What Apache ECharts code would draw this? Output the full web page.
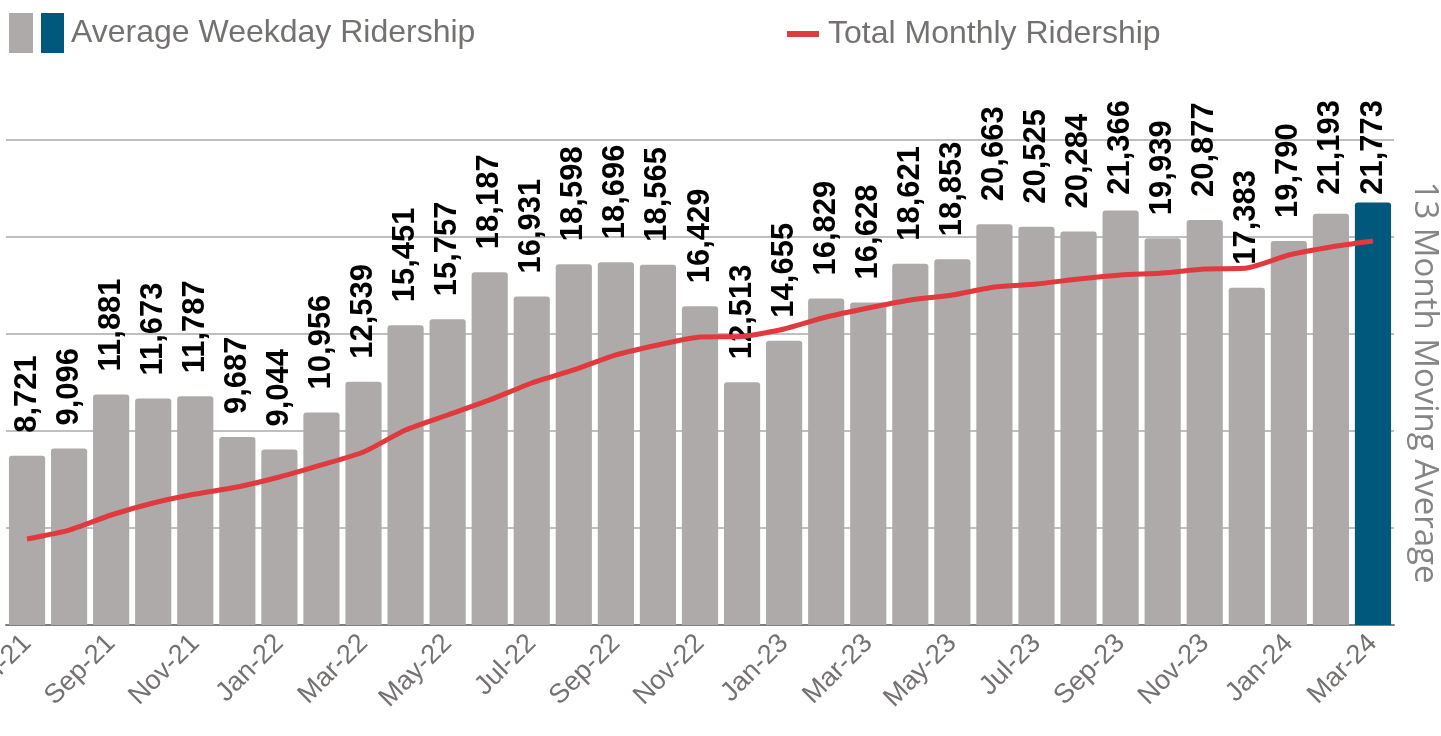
<!DOCTYPE html>
<html>
<head>
<meta charset="utf-8">
<script src="https://cdn.jsdelivr.net/npm/echarts@6/dist/echarts.min.js"></script>
<style>
  html, body { margin: 0; padding: 0; background: #fff; }
  #chart-container { width: 1441px; height: 736px; }
</style>
</head>
<body>
<div id="chart-container"></div>
<script>
// months shown on the x axis
const months = [
  'Jul-21', 'Aug-21', 'Sep-21', 'Oct-21', 'Nov-21', 'Dec-21',
  'Jan-22', 'Feb-22', 'Mar-22', 'Apr-22', 'May-22', 'Jun-22',
  'Jul-22', 'Aug-22', 'Sep-22', 'Oct-22', 'Nov-22', 'Dec-22',
  'Jan-23', 'Feb-23', 'Mar-23', 'Apr-23', 'May-23', 'Jun-23',
  'Jul-23', 'Aug-23', 'Sep-23', 'Oct-23', 'Nov-23', 'Dec-23',
  'Jan-24', 'Feb-24', 'Mar-24'
];

// average weekday ridership (bars)
const weekdayAvg = [
  8721, 9096, 11881, 11673, 11787, 9687,
  9044, 10956, 12539, 15451, 15757, 18187,
  16931, 18598, 18696, 18565, 16429, 12513,
  14655, 16829, 16628, 18621, 18853, 20663,
  20525, 20284, 21366, 19939, 20877, 17383,
  19790, 21193, 21773
];

// 13 month moving average of total monthly ridership (line)
const movingAvg = [
  88700, 97900, 113400, 125800, 135000, 142300,
  152600, 165000, 178400, 201000, 216500, 232000,
  249500, 262900, 278400, 288700, 296900, 297500,
  305200, 317500, 326800, 335000, 340200, 348500,
  351500, 356700, 360800, 362900, 367000, 368000,
  381400, 389700, 395900
];

const gray = '#AEAAAA';
const blue = '#00587C';
const red = '#E0393E';
const labelGap = 23;
const labelTopLimit = 100;

var dom = document.getElementById('chart-container');
var myChart = echarts.init(dom, null, { renderer: 'canvas' });

const barData = weekdayAvg.map(function (v, i) {
  if (i === weekdayAvg.length - 1) {
    return { value: v, itemStyle: { color: blue } };
  }
  return v;
});

var option = {
  animation: false,
  legend: [
    {
      left: 9,
      top: 13,
      padding: 0,
      itemWidth: 24,
      itemHeight: 40,
      icon: 'rect',
      selectedMode: false,
      data: ['Average Weekday Ridership'],
      formatter: function (name) {
        return '{gap|}{box|}{gap2|}' + name;
      },
      textStyle: {
        color: '#767171',
        fontSize: 32,
        fontFamily: 'Arial, "Liberation Sans"',
        rich: {
          gap: { width: 3 },
          box: { width: 23, height: 40, backgroundColor: blue },
          gap2: { width: 7 }
        }
      }
    },
    {
      left: 787,
      top: 18,
      padding: 0,
      itemWidth: 32,
      itemHeight: 6,
      icon: 'rect',
      selectedMode: false,
      data: ['Total Monthly Ridership'],
      textStyle: {
        color: '#767171',
        fontSize: 32,
        fontFamily: 'Arial, "Liberation Sans"',
        padding: [0, 0, 0, 4]
      }
    }
  ],
  grid: {
    left: 6,
    right: 47,
    top: 140,
    bottom: 111,
    containLabel: false,
    outerBoundsMode: 'none'
  },
  xAxis: {
    type: 'category',
    data: months,
    axisTick: { show: false },
    axisLine: { lineStyle: { color: '#7F7F7F', width: 2 } },
    axisLabel: {
      interval: 1,
      rotate: 45,
      margin: 14,
      color: '#767171',
      fontSize: 27,
      fontFamily: 'Arial, "Liberation Sans"'
    }
  },
  yAxis: [
    {
      type: 'value',
      min: 0,
      max: 25000,
      interval: 5000,
      axisLabel: { show: false },
      axisLine: { show: false },
      axisTick: { show: false },
      splitLine: { lineStyle: { color: '#BFBFBF', width: 2 } }
    },
    {
      type: 'value',
      min: 0,
      max: 500000,
      interval: 100000,
      position: 'right',
      name: '13 Month Moving Average',
      nameLocation: 'middle',
      nameRotate: -90,
      nameGap: 14,
      nameTextStyle: {
        color: '#858585',
        fontSize: 33,
        fontFamily: '"Open Sans", sans-serif'
      },
      axisLabel: { show: false },
      axisLine: { show: false },
      axisTick: { show: false },
      splitLine: { show: false }
    }
  ],
  series: [
    {
      name: 'Average Weekday Ridership',
      type: 'bar',
      barCategoryGap: '14%',
      itemStyle: { color: gray, borderRadius: [3, 3, 0, 0] },
      label: {
        show: true,
        position: 'top',
        distance: labelGap,
        rotate: 90,
        align: 'left',
        verticalAlign: 'middle',
        color: '#000',
        fontWeight: 'bold',
        fontSize: 31,
        fontFamily: 'Arial, "Liberation Sans"',
        formatter: function (p) {
          return p.value.toLocaleString('en-US');
        }
      },
      // keep labels inside the chart area at the top, like the original
      labelLayout: function (params) {
        var len = Math.max(params.labelRect.width, params.labelRect.height);
        var base = params.rect.y - labelGap;
        var over = labelTopLimit - (base - len);
        if (over <= 0) return {};
        return {
          x: params.rect.x + params.rect.width / 2,
          y: base + over
        };
      },
      data: barData
    },
    {
      name: 'Total Monthly Ridership',
      type: 'line',
      yAxisIndex: 1,
      symbol: 'none',
      smooth: 0.2,
      lineStyle: { color: red, width: 5 },
      itemStyle: { color: red },
      data: movingAvg
    }
  ]
};

if (option && typeof option === 'object') {
  myChart.setOption(option);
}
</script>
</body>
</html>
